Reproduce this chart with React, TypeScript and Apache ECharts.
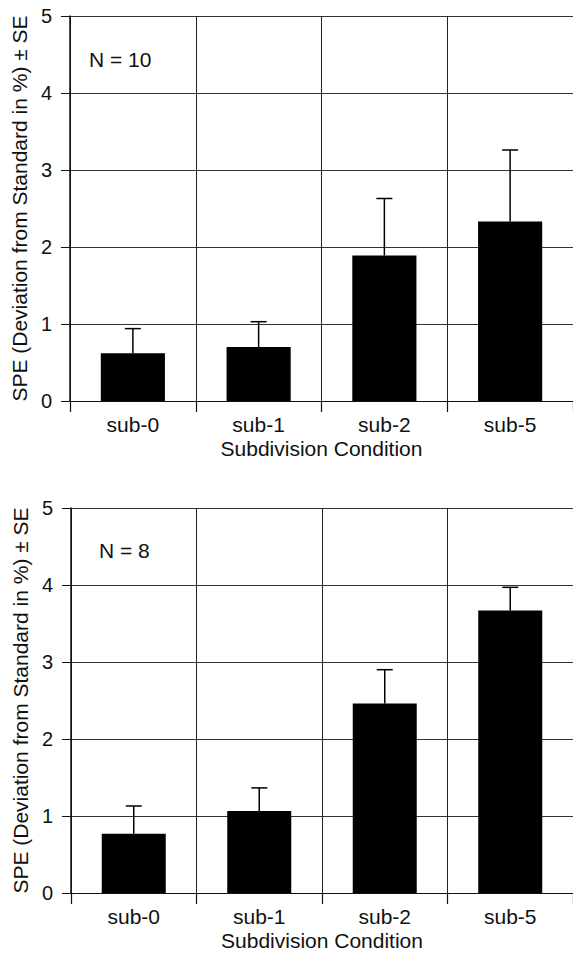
import React, { useEffect, useRef } from "react";
import * as echarts from "echarts";

const categories = ["sub-0", "sub-1", "sub-2", "sub-5"];
const meansN10 = [0.62, 0.7, 1.89, 2.33];
const seN10 = [0.32, 0.33, 0.74, 0.93];
const meansN8 = [0.77, 1.065, 2.46, 3.67];
const seN8 = [0.36, 0.3, 0.44, 0.3];
const yTicks = { min: 0, max: 5, interval: 1 };
const panelLabels = ["N = 10", "N = 8"];
const xName = "Subdivision Condition";
const yName = "SPE (Deviation from Standard in %) \u00b1 SE";

const FONT = "'Liberation Sans', Arial, Helvetica, sans-serif";

export default function App() {
  const ref = useRef<HTMLDivElement>(null);
  useEffect(() => {
    if (!ref.current) return;
    const chart = echarts.init(ref.current, undefined, { renderer: "svg" });
    const grids = [
      { left: 70, top: 16, width: 505, height: 385 },
      { left: 71, top: 508, width: 506, height: 385 },
    ];
    const xAxes = grids.map((_, i) => ({
      type: "category",
      gridIndex: i,
      data: categories,
      boundaryGap: true,
      name: xName,
      nameLocation: "middle",
      nameGap: 37,
      nameTextStyle: { fontFamily: FONT, fontSize: 21, color: "#111" },
      axisLine: { show: true, lineStyle: { color: "#111", width: 1.2 } },
      axisTick: { show: true, length: 11, interval: 0, lineStyle: { color: "#111", width: 1.2 } },
      axisLabel: { fontFamily: FONT, fontSize: 21, color: "#111", margin: 13, interval: 0 },
      splitLine: { show: true, interval: 0, lineStyle: { color: "#222", width: 1 } },
    }));
    const yAxes = grids.map((_, i) => ({
      type: "value",
      gridIndex: i,
      min: yTicks.min,
      max: yTicks.max,
      interval: yTicks.interval,
      name: yName,
      nameLocation: "middle",
      nameGap: 29,
      nameRotate: 90,
      nameTextStyle: { fontFamily: FONT, fontSize: 21, color: "#111" },
      axisLine: { show: true, lineStyle: { color: "#111", width: 1.5 } },
      axisTick: { show: true, length: 9, lineStyle: { color: "#111", width: 1 } },
      axisLabel: { fontFamily: FONT, fontSize: 20, color: "#111", margin: 18 },
      splitLine: { show: true, lineStyle: { color: "#333", width: 1 } },
    }));
    const panels = [
      { means: meansN10, se: seN10 },
      { means: meansN8, se: seN8 },
    ];
    const series: any[] = [];
    panels.forEach((p, i) => {
      series.push({
        type: "bar",
        xAxisIndex: i,
        yAxisIndex: i,
        data: p.means,
        barWidth: "51%",
        itemStyle: { color: "#000" },
        silent: true,
      });
      series.push({
        type: "custom",
        xAxisIndex: i,
        yAxisIndex: i,
        data: p.means.map((m, j) => [j, m, p.se[j]]),
        encode: { x: 0, y: 1 },
        z: 5,
        renderItem: (params: any, api: any) => {
          const xi = api.value(0);
          const m = api.value(1);
          const e = api.value(2);
          const base = api.coord([xi, m]);
          const top = api.coord([xi, m + e]);
          const half = 8;
          const style = { stroke: "#000", lineWidth: 1.5 };
          return {
            type: "group",
            children: [
              { type: "line", shape: { x1: base[0], y1: base[1], x2: top[0], y2: top[1] }, style },
              { type: "line", shape: { x1: top[0] - half, y1: top[1], x2: top[0] + half, y2: top[1] }, style },
            ],
          };
        },
      });
    });
    chart.setOption({
      animation: false,
      backgroundColor: "#fff",
      grid: grids,
      xAxis: xAxes,
      yAxis: yAxes,
      series,
      graphic: [
        {
          type: "text",
          left: 89,
          top: 49,
          style: { text: panelLabels[0], fontFamily: FONT, fontSize: 21, fill: "#111" },
        },
        {
          type: "text",
          left: 99,
          top: 540,
          style: { text: panelLabels[1], fontFamily: FONT, fontSize: 21, fill: "#111" },
        },
      ],
    });
    return () => chart.dispose();
  }, []);
  return (
    <div
      ref={ref}
      style={{ position: "fixed", left: 0, top: 0, width: 573, height: 956, background: "#fff" }}
    />
  );
}
